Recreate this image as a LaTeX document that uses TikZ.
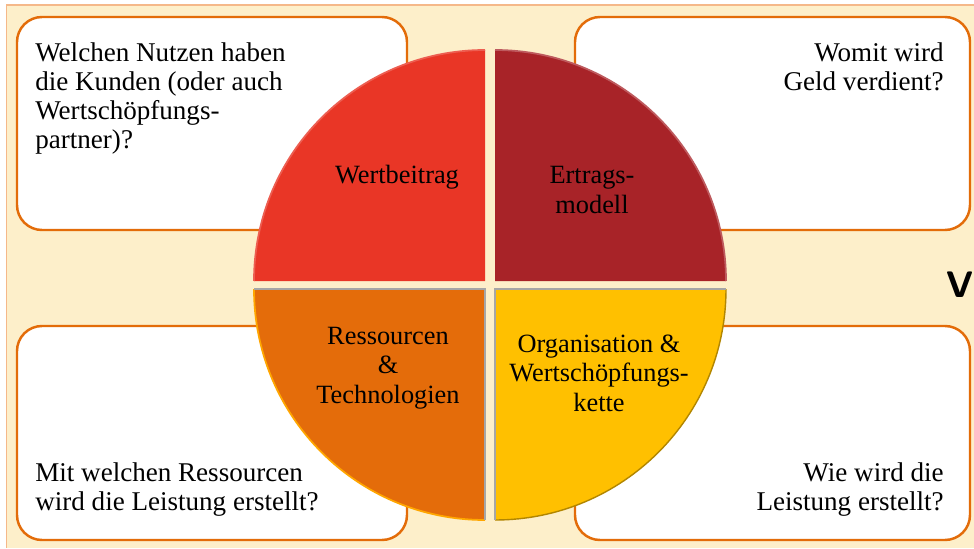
\documentclass[tikz,border=0pt]{standalone}
\usepackage{fontspec}
\setmainfont{Liberation Serif}
\definecolor{cream}{HTML}{FDEFCA}
\definecolor{frameline}{HTML}{F5B889}
\definecolor{boxorange}{HTML}{E36C09}
\definecolor{segred}{HTML}{E93626}
\definecolor{segdarkred}{HTML}{A82328}
\definecolor{segorange}{HTML}{E46C0A}
\definecolor{segyellow}{HTML}{FFC000}
\begin{document}
\begin{tikzpicture}[
        qbox/.style={draw=boxorange, line width=1.4pt, fill=white, rounded corners=0.5cm},
        question/.style={inner sep=0pt, font=\fontsize{15.4}{16.6}\selectfont},
        segtext/.style={inner sep=0pt, align=center, font=\fontsize{15}{16.8}\selectfont}
    ]
        \useasboundingbox (0, 0) rectangle (19.48, 10.96);
        \fill[white] (0, 0) rectangle (19.48, 10.96);
        \fill[cream] (0.13, 0) rectangle (19.48, 10.86);
        \draw[frameline, line width=0.8pt] (0.13, 0) -- (0.13, 10.86) -- (19.48, 10.86);

        % question boxes
        \draw[qbox] (0.34, 6.36) rectangle (8.14, 10.62);
        \draw[qbox] (11.5, 6.36) rectangle (19.4, 10.62);
        \draw[qbox] (0.34, 0.16) rectangle (8.14, 4.44);
        \draw[qbox] (11.5, 0.16) rectangle (19.4, 4.44);

        \node[question, anchor=north west, align=left] (nutzen) at (0.7, 10.12)
            {Welchen Nutzen haben\\die Kunden (oder auch\\Wertschöpfungs-\\partner)?};
        \node[question, anchor=north east, align=right] (geld) at (18.88, 10.12)
            {Womit wird\\Geld verdient?};
        \node[question, anchor=south west, align=left] (ressfrage) at (0.7, 0.62)
            {Mit welchen Ressourcen\\wird die Leistung erstellt?};
        \node[question, anchor=south east, align=right] (leistung) at (18.88, 0.62)
            {Wie wird die\\Leistung erstellt?};

        % circle in four parts
        \fill[segred] (9.7, 5.34) -- (5.08, 5.34) arc (180:90:4.62) -- cycle;
        \draw[segred!80!white, line width=1pt] (5.08, 5.34) arc (180:90:4.62);
        \fill[segdarkred] (9.9, 5.34) -- (9.9, 9.96) arc (90:0:4.62) -- cycle;
        \draw[segdarkred!75!white, line width=1pt] (9.9, 9.96) arc (90:0:4.62);
        \fill[segorange] (9.7, 5.18) -- (9.7, 0.56) arc (270:180:4.62) -- cycle;
        \draw[orange!70!yellow, line width=1pt] (9.7, 0.56) arc (270:180:4.62);
        \fill[segyellow] (9.9, 5.18) -- (14.52, 5.18) arc (0:-90:4.62) -- cycle;
        \draw[segyellow!70!black, line width=0.8pt] (14.52, 5.18) arc (0:-90:4.62);
        \draw[black!35, line width=1pt] (5.08, 5.18) -- (9.7, 5.18) -- (9.7, 0.56);
        \draw[black!35, line width=1pt] (9.9, 0.56) -- (9.9, 5.18) -- (14.52, 5.18);

        \node[segtext] (wert) at (7.94, 7.42) {Wertbeitrag};
        \node[segtext] (ertrag) at (11.84, 7.16) {Ertrags-\\modell};
        \node[segtext] (ress) at (7.76, 3.6) {Ressourcen\\\&\\Technologien};
        \node[segtext] (orga) at (11.98, 3.5) {Organisation \&\\Wertschöpfungs-\\kette};

        \node[inner sep=0pt, font=\sffamily\bfseries\fontsize{21}{21}\selectfont] (cut) at (19.2, 5.26) {V};
    \end{tikzpicture}
\end{document}
